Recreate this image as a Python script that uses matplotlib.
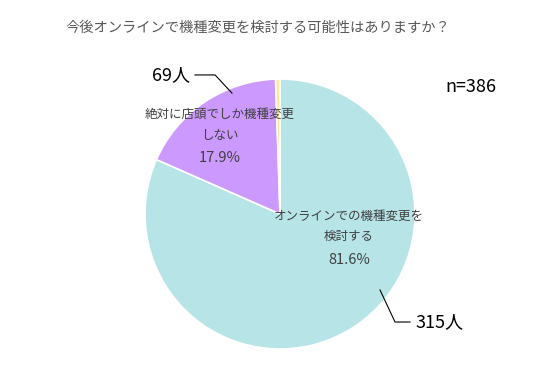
import matplotlib
matplotlib.use('Agg')
import matplotlib.pyplot as plt

plt.rcParams['font.family'] = ['Noto Sans CJK JP', 'DejaVu Sans']

title = '今後オンラインで機種変更を検討する可能性はありますか？'
categories = ['オンラインでの機種変更を\n検討する', '絶対に店頭でしか機種変更\nしない', 'その他']
counts = [315, 69, 2]
percents = [81.6, 17.9, 0.5]
colors = ['#B6E4E7', '#CC99FF', '#FFE699']
total_n = 386

fig = plt.figure(figsize=(5.54, 3.70), dpi=100)
ax = fig.add_axes([145 / 554, 21 / 370, 270 / 554, 270 / 370])
ax.pie(counts, colors=colors, startangle=90, counterclock=False,
       wedgeprops=dict(edgecolor='white', linewidth=1.2))
ax.set_xlim(-1, 1)
ax.set_ylim(-1, 1)
ax.set_aspect('equal')
ax.axis('off')

# 内側のラベル
ax.text(0.51, -0.093, categories[0], ha='center', va='center',
        fontsize=9, color='#404040', linespacing=1.75)
ax.text(0.51, -0.341, f'{percents[0]}%', ha='center', va='center',
        fontsize=10.5, color='#404040')
ax.text(-0.444, 0.659, categories[1], ha='center', va='center',
        fontsize=9, color='#404040', linespacing=1.75)
ax.text(-0.444, 0.415, f'{percents[1]}%', ha='center', va='center',
        fontsize=10.5, color='#404040')

# 人数ラベル
ax.plot([-0.356, -0.481, -0.63], [0.896, 1.03, 1.03], color='black', lw=0.8, clip_on=False)
ax.text(-0.667, 1.03, f'{counts[1]}人', ha='right', va='center', fontsize=13, color='black')
ax.plot([0.741, 0.852, 0.963], [-0.563, -0.80, -0.80], color='black', lw=0.8, clip_on=False)
ax.text(1.0, -0.80, f'{counts[0]}人', ha='left', va='center', fontsize=13, color='black')

fig.text(0.466, 0.924, title, ha='center', va='center', fontsize=10.3, color='#595959')
fig.text(445 / 554, 0.765, f'n={total_n}', ha='left', va='center', fontsize=13, color='black')

fig.savefig('out.png', dpi=100, facecolor='white')
